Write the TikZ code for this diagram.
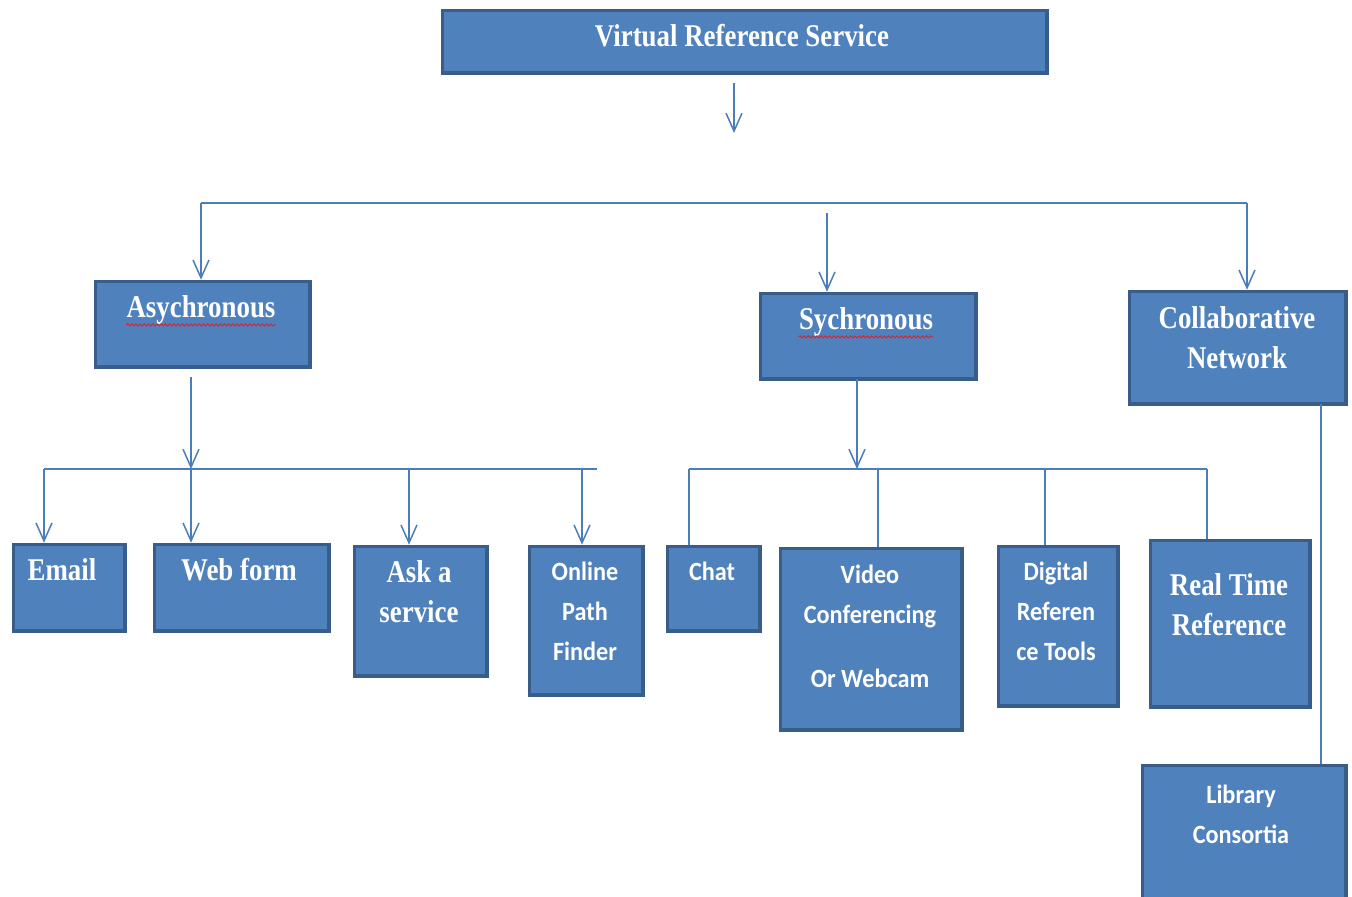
\documentclass[tikz,border=0pt]{standalone}
\usepackage{fontspec}
\setmainfont{Liberation Serif}
\newfontfamily\tnrfnt[FakeStretch=0.85]{Liberation Serif}
\newfontfamily\calfnt[FakeStretch=0.92]{Carlito}
\usetikzlibrary{arrows.meta,decorations.pathmorphing}
\definecolor{boxfill}{HTML}{4F81BD}
\definecolor{boxline}{HTML}{385D8A}
\definecolor{conn}{HTML}{4A7EBB}
\definecolor{spell}{HTML}{E0202A}
\tikzset{
  box/.style={draw=boxline, fill=boxfill, line width=2pt, rectangle, inner sep=0pt},
  tt/.style={text=white, inner sep=0pt, align=center, anchor=base,
    font=\tnrfnt\bfseries\fontsize{18}{22.7}\selectfont},
  ct/.style={text=white, inner sep=0pt, align=center, anchor=base,
    font=\calfnt\bfseries\fontsize{15}{22.7}\selectfont},
  con/.style={draw=conn, line width=0.85pt},
  arr/.style={con, -{Straight Barb[length=0.36cm,width=0.32cm]}},
  wavy/.style={draw=spell, line width=0.5pt, decorate,
    decoration={snake, amplitude=0.6pt, segment length=2.4pt}}
}
\newcommand\bx[5]{\node[box, anchor=north west,
  minimum width={(#4-#2-3.5)*0.02cm}, minimum height={(#5-#3-3.5)*0.02cm}]
  (#1) at (#2+1.75,#3+1.75) {};}
\begin{document}
\begin{tikzpicture}[x=0.02cm, y=-0.02cm]
\fill[white] (0,0) rectangle (1352,896);
\useasboundingbox (0,0) rectangle (1352,896);
\clip (0,0) rectangle (1352,896);

% boxes
\bx{vrs}{439}{7}{1047}{73}
\bx{asy}{92}{278}{310}{367}
\bx{syn}{757}{290}{976}{379}
\bx{col}{1126}{288}{1346}{404}
\bx{email}{10}{541}{125}{631}
\bx{web}{151}{541}{329}{631}
\bx{ask}{351}{543}{487}{676}
\bx{opf}{526}{543}{643}{695}
\bx{chat}{664}{543}{760}{631}
\bx{video}{777}{545}{962}{730}
\bx{dig}{995}{543}{1118}{706}
\bx{rt}{1147}{537}{1310}{707}
\bx{lib}{1139}{762}{1346}{905}

% texts (anchor = baseline of the last line)
\node[tt] (vrs-t) at (742,46) {Virtual Reference Service};
\node[tt] (asy-t) at (201,317) {Asychronous};
\node[tt] (syn-t) at (866,329) {Sychronous};
\node[tt] (col-t) at (1237,368) {Collaborative\\Network};
\node[tt] (email-t) at (62,580) {Email};
\node[tt] (web-t) at (239,580) {Web form};
\node[tt] (ask-t) at (419,622) {Ask a\\service};
\node[ct] (opf-t) at (585,660) {Online\\Path\\Finder};
\node[ct] (chat-t) at (712,580) {Chat};
\node[ct] (video-t) at (870,687) {Video\\Conferencing\\[13.6pt]Or Webcam};
\node[ct] (dig-t) at (1056,660) {Digital\\Referen\\ce Tools};
\node[tt] (rt-t) at (1229,635) {Real Time\\Reference};
\node[ct] (lib-t) at (1241,843) {Library\\Consortia};

% spell-check underlines
\draw[wavy] ([yshift=-4.5pt]asy-t.base west) -- ([yshift=-4.5pt]asy-t.base east);
\draw[wavy] ([yshift=-4.5pt]syn-t.base west) -- ([yshift=-4.5pt]syn-t.base east);

% top arrow
\coordinate (t0) at (734,83);
\coordinate (t1) at (734,133);
\draw[arr] (t0) -- (t1);

% main bus
\coordinate (b1) at (201,203);
\coordinate (b2) at (1247,203);
\coordinate (m0) at (827,213);
\draw[con] (b1) -- (b2);
\draw[arr] (b1) -- (b1 |- asy.north);
\draw[arr] (b2) -- (b2 |- col.north);
\draw[arr] (m0) -- (m0 |- syn.north);

% asynchronous branch
\coordinate (a0) at (191,377);
\coordinate (ab) at (191,469);
\coordinate (al) at (44,469);
\coordinate (ar) at (597,469);
\coordinate (d3) at (409,469);
\coordinate (d4) at (582,469);
\draw[arr] (a0) -- (ab);
\draw[con] (al) -- (ar);
\draw[arr] (al) -- (al |- email.north);
\draw[arr] (ab) -- (ab |- web.north);
\draw[arr] (d3) -- (d3 |- ask.north);
\draw[arr] (d4) -- (d4 |- opf.north);

% synchronous branch
\coordinate (s0) at (857,379);
\coordinate (sb) at (857,469);
\coordinate (sl) at (689,469);
\coordinate (sr) at (1207,469);
\coordinate (e2) at (878,469);
\coordinate (e3) at (1045,469);
\draw[arr] (s0) -- (sb);
\draw[con] (sl) -- (sr);
\draw[con] (sl) -- (sl |- chat.north);
\draw[con] (e2) -- (e2 |- video.north);
\draw[con] (e3) -- (e3 |- dig.north);
\draw[con] (sr) -- (sr |- rt.north);

% collaborative branch
\coordinate (c0) at (1321,404);
\draw[con] (c0) -- (c0 |- lib.north);
\end{tikzpicture}
\end{document}
